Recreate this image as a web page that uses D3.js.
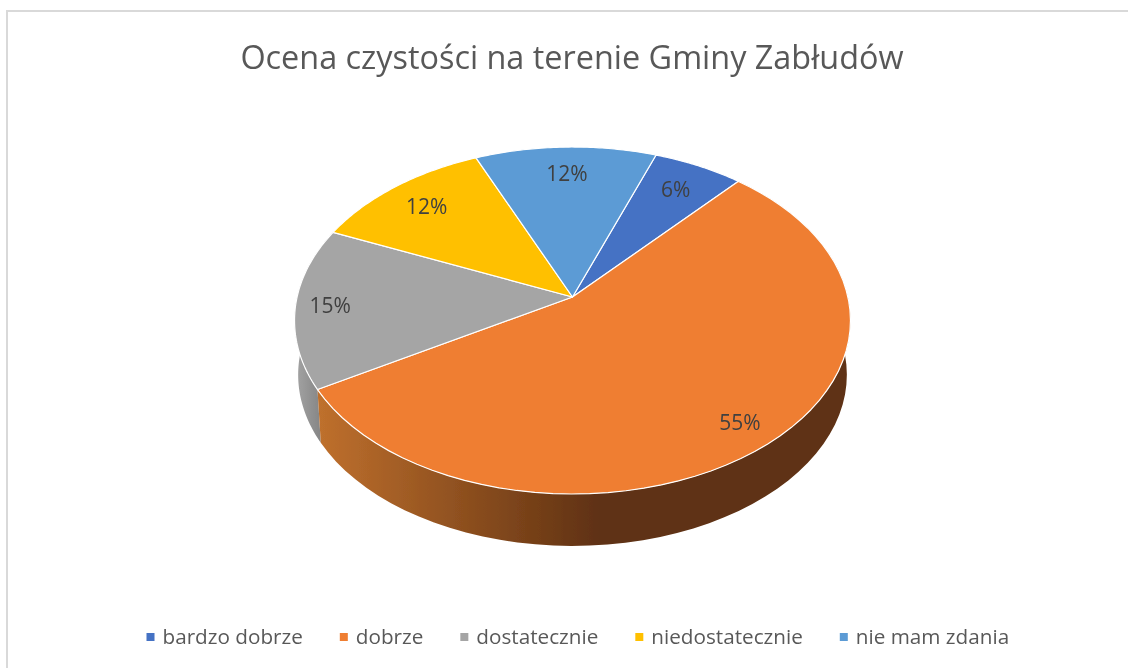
<!DOCTYPE html>
<html>
<head>
<meta charset="utf-8">
<script src="https://cdn.jsdelivr.net/npm/d3@7"></script>
<style>
  html, body { margin: 0; background: #fff; overflow: hidden; }
  svg { display: block; font-family: "Open Sans", sans-serif; }
</style>
</head>
<body>
<script>
const titleText = 'Ocena czystości na terenie Gminy Zabłudów'
const categories = ['bardzo dobrze', 'dobrze', 'dostatecznie', 'niedostatecznie', 'nie mam zdania']
const shares = [6, 55, 15, 12, 12]
const colors = ['#4472c4', '#ef7e30', '#a5a5a5', '#ffc000', '#5b9bd5']

const width = 1128
const height = 668
const apex = { x: 572.5, y: 297 }
const depth = 54.5
const bottomScale = 0.987
const tilt = 0.1355 // perspective of the 3d pie
const labelRadii = [0.8, 0.87, 0.875, 0.81, 0.8]

const svg = d3.select('body').append('svg')
  .attr('width', width)
  .attr('height', height)

// unit circle -> screen, plain scales then a perspective divide
const xScale = d3.scaleLinear().domain([-1, 1]).range([-275.4, 275.4])
const yScale = d3.scaleLinear().domain([-1, 1]).range([-170.3, 170.3])

function project (angle, r = 1, bottom = false) {
  const X = r * Math.sin(angle)
  const Y = -r * Math.cos(angle)
  const w = 1 - tilt * Y
  const s = bottom ? bottomScale : 1
  return [
    apex.x + s * xScale(X / w),
    apex.y + (bottom ? depth : 0) + s * yScale(Y / w)
  ]
}

const pie = d3.pie().sort(null)
  .startAngle(20 * Math.PI / 180)
  .endAngle(380 * Math.PI / 180)
const slices = pie(shares)
const line = d3.line()

const arcAngles = d => d3.range(0, 61).map(i => d.startAngle + (d.endAngle - d.startAngle) * i / 60)

const defs = svg.append('defs')
// the source is a slightly soft screenshot
defs.append('filter')
  .attr('id', 'soft')
  .attr('filterUnits', 'userSpaceOnUse')
  .attr('x', 0).attr('y', 0)
  .attr('width', width).attr('height', height)
  .append('feGaussianBlur')
  .attr('stdDeviation', 0.45)

const wallGradient = (id, x1, x2, stops) => {
  const g = defs.append('linearGradient')
    .attr('id', id)
    .attr('gradientUnits', 'userSpaceOnUse')
    .attr('x1', x1).attr('x2', x2)
    .attr('y1', 0).attr('y2', 0)
  g.selectAll('stop').data(stops).join('stop')
    .attr('offset', d => d[0])
    .attr('stop-color', d => d[1])
}
wallGradient('wall1', 317, 600, [[0, '#bf702d'], [1, '#5f3112']])
wallGradient('wall2', 296, 325, [[0, '#a3a3a3'], [1, '#808080']])

const chart = svg.append('g').attr('filter', 'url(#soft)')

// frame runs off the right and bottom of the crop
chart.append('rect')
  .attr('x', 7).attr('y', 11)
  .attr('width', 1200).attr('height', 700)
  .attr('fill', '#fff')
  .attr('stroke', '#d9d9d9')
  .attr('stroke-width', 2)

// side wall first, the top faces cover whatever is behind
chart.append('g').selectAll('path')
  .data([slices[2], slices[1]])
  .join('path')
  .attr('d', d => {
    const a = arcAngles(d)
    return line(a.map(t => project(t)).concat(a.reverse().map(t => project(t, 1, true)))) + 'Z'
  })
  .attr('fill', d => d.index === 1 ? 'url(#wall1)' : 'url(#wall2)')

chart.append('g').selectAll('path')
  .data(slices)
  .join('path')
  .attr('d', d => line([[apex.x, apex.y]].concat(arcAngles(d).map(t => project(t)))) + 'Z')
  .attr('fill', (d, i) => colors[i])
  .attr('stroke', '#fff')
  .attr('stroke-width', 1.2)
  .attr('stroke-linejoin', 'round')

chart.append('g').selectAll('text')
  .data(slices)
  .join('text')
  .attr('x', d => project((d.startAngle + d.endAngle) / 2, labelRadii[d.index])[0])
  .attr('y', d => project((d.startAngle + d.endAngle) / 2, labelRadii[d.index])[1])
  .attr('dy', '0.35em')
  .attr('text-anchor', 'middle')
  .attr('font-size', 21)
  .attr('fill', '#404040')
  .text(d => d.data + '%')

chart.append('text')
  .attr('x', 572)
  .attr('y', 69)
  .attr('text-anchor', 'middle')
  .attr('font-size', 32.4)
  .attr('fill', '#595959')
  .text(titleText)

const legend = chart.append('g')
let legendX = 146.5
categories.forEach((name, i) => {
  legend.append('rect')
    .attr('x', legendX).attr('y', 633)
    .attr('width', 8).attr('height', 8)
    .attr('fill', colors[i])
  const t = legend.append('text')
    .attr('x', legendX + 16)
    .attr('y', 644)
    .attr('font-size', 20.7)
    .attr('fill', '#595959')
    .text(name)
  legendX += 16 + t.node().getComputedTextLength() + 37
})
</script>
</body>
</html>
